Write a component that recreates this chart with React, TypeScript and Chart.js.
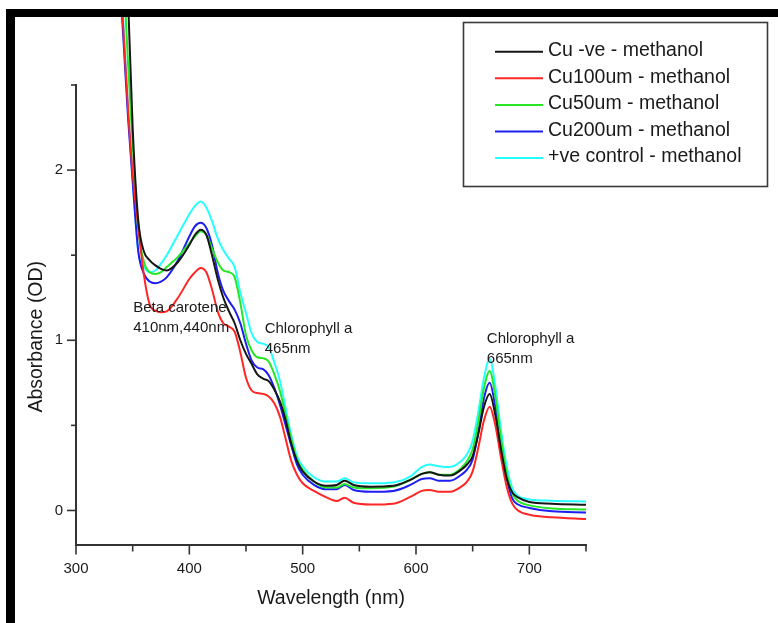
import React, { useEffect, useRef } from "react";
import { Chart, registerables } from "chart.js";

Chart.register(...registerables);

// ---------- DATA ----------
const wavelengths = [
  338, 342, 346, 350, 355, 360, 365, 370, 375, 380, 390, 400, 405, 410, 415, 420, 425, 430, 435, 440,
  445, 450, 455, 460, 465, 470, 475, 480, 485, 490, 495, 500, 510, 520, 530, 537, 545, 560, 580, 595,
  605, 612, 620, 630, 640, 645, 650, 655, 660, 665, 670, 675, 680, 685, 690, 700, 720, 750,
];

const cuNegative = [
  4.5, 3.8, 3.0, 2.25, 1.7, 1.52, 1.47, 1.44, 1.42, 1.41, 1.46, 1.56, 1.62, 1.65, 1.62, 1.5, 1.36, 1.25, 1.17, 1.1,
  1.0, 0.92, 0.86, 0.8, 0.775, 0.76, 0.71, 0.64, 0.53, 0.39, 0.29, 0.23, 0.17, 0.145, 0.15, 0.175, 0.15, 0.14, 0.145, 0.18,
  0.215, 0.225, 0.21, 0.205, 0.24, 0.27, 0.32, 0.45, 0.61, 0.685, 0.56, 0.36, 0.19, 0.105, 0.077, 0.05, 0.04, 0.033,
];

const cu100 = [
  3.25, 2.8, 2.35, 1.98, 1.66, 1.38, 1.21, 1.175, 1.165, 1.17, 1.25, 1.36, 1.4, 1.425, 1.4, 1.3, 1.17, 1.1, 1.08, 1.05,
  0.93, 0.78, 0.705, 0.69, 0.685, 0.67, 0.63, 0.55, 0.42, 0.29, 0.21, 0.16, 0.115, 0.08, 0.055, 0.075, 0.045, 0.035, 0.04, 0.08,
  0.115, 0.12, 0.11, 0.11, 0.14, 0.17, 0.23, 0.37, 0.53, 0.61, 0.5, 0.31, 0.14, 0.04, 0.0, -0.025, -0.04, -0.05,
];

const cu50 = [
  3.65, 3.15, 2.62, 2.15, 1.65, 1.46, 1.4, 1.39, 1.4, 1.43, 1.49, 1.57, 1.61, 1.64, 1.62, 1.54, 1.46, 1.41, 1.4, 1.37,
  1.22, 1.03, 0.94, 0.9, 0.895, 0.875, 0.8, 0.7, 0.56, 0.42, 0.3, 0.24, 0.17, 0.135, 0.135, 0.155, 0.135, 0.13, 0.14, 0.18,
  0.215, 0.225, 0.21, 0.21, 0.25, 0.29, 0.36, 0.52, 0.72, 0.82, 0.67, 0.42, 0.22, 0.1, 0.055, 0.03, 0.012, 0.005,
];

const cu200 = [
  3.2, 2.75, 2.3, 1.93, 1.52, 1.39, 1.345, 1.335, 1.345, 1.37, 1.47, 1.61, 1.67, 1.69, 1.66, 1.56, 1.4, 1.29, 1.23, 1.18,
  1.1, 0.98, 0.88, 0.84, 0.83, 0.795, 0.72, 0.62, 0.5, 0.38, 0.27, 0.21, 0.15, 0.125, 0.125, 0.15, 0.12, 0.11, 0.115, 0.15,
  0.185, 0.19, 0.175, 0.175, 0.21, 0.24, 0.3, 0.46, 0.66, 0.75, 0.61, 0.4, 0.19, 0.07, 0.035, 0.015, -0.005, -0.012,
];

const positiveControl = [
  3.35, 2.85, 2.35, 1.95, 1.52, 1.43, 1.4, 1.41, 1.45, 1.5, 1.62, 1.74, 1.79, 1.815, 1.78, 1.7, 1.6, 1.53, 1.48, 1.43,
  1.28, 1.16, 1.04, 0.99, 0.98, 0.96, 0.87, 0.76, 0.6, 0.44, 0.32, 0.26, 0.195, 0.17, 0.17, 0.19, 0.165, 0.16, 0.165, 0.2,
  0.255, 0.27, 0.26, 0.255, 0.29, 0.33, 0.41, 0.58, 0.78, 0.89, 0.73, 0.47, 0.26, 0.13, 0.085, 0.065, 0.057, 0.053,
];

const seriesLabels = [
  "Cu -ve - methanol",
  "Cu100um - methanol",
  "Cu50um - methanol",
  "Cu200um - methanol",
  "+ve control - methanol",
];
const seriesValues = [cuNegative, cu100, cu50, cu200, positiveControl];
const seriesColors = ["#161616", "#ff2626", "#26e626", "#1e1ef2", "#26ffff"];

const xTickValues = [300, 350, 400, 450, 500, 550, 600, 650, 700, 750];
const xLabelValues = [300, 400, 500, 600, 700];
const yTickValues = [0, 0.5, 1, 1.5, 2, 2.5];
const yLabelValues = [0, 1, 2];

const xTitle = "Wavelength (nm)";
const yTitle = "Absorbance (OD)";

const annotationTexts = [
  ["Beta carotene", "410nm,440nm"],
  ["Chlorophyll a", "465nm"],
  ["Chlorophyll a", "665nm"],
];
const annotationWavelengths = [350.5, 466.5, 662.5];
const annotationAbsorbances = [1.167, 1.043, 0.986];

// ---------- STYLE ----------
const FONT = "'Liberation Sans', Arial, Helvetica, sans-serif";
const TEXT = "#1a1a1a";
const AXIS = "#333333";

const decorPlugin = {
  id: "decor",
  afterDraw(chart: any) {
    const { ctx, chartArea, scales } = chart;
    const xs = scales.x;
    const ys = scales.y;
    ctx.save();
    // tick marks (major + minor)
    ctx.strokeStyle = AXIS;
    ctx.lineWidth = 1.6;
    xTickValues.forEach((v) => {
      const px = xs.getPixelForValue(v);
      const len = xLabelValues.includes(v) ? 10 : 7;
      ctx.beginPath();
      ctx.moveTo(px, chartArea.bottom);
      ctx.lineTo(px, chartArea.bottom + len);
      ctx.stroke();
    });
    yTickValues.forEach((v) => {
      const py = ys.getPixelForValue(v);
      const len = yLabelValues.includes(v) ? 9 : 5;
      ctx.beginPath();
      ctx.moveTo(chartArea.left - len, py);
      ctx.lineTo(chartArea.left, py);
      ctx.stroke();
    });

    // y-axis title
    ctx.fillStyle = TEXT;
    ctx.font = `19.5px ${FONT}`;
    ctx.textAlign = "center";
    ctx.textBaseline = "middle";
    ctx.save();
    ctx.translate(37, (chartArea.top + chartArea.bottom) / 2 + 22);
    ctx.rotate(-Math.PI / 2);
    ctx.fillText(yTitle, 0, 0);
    ctx.restore();

    // annotations
    ctx.font = `15px ${FONT}`;
    ctx.textAlign = "left";
    ctx.textBaseline = "alphabetic";
    annotationTexts.forEach((lines, i) => {
      const px = xs.getPixelForValue(annotationWavelengths[i]);
      const py = ys.getPixelForValue(annotationAbsorbances[i]);
      lines.forEach((t, j) => ctx.fillText(t, px, py + j * 20.5));
    });

    // legend box
    const bx = 463.5, by = 5.5, bw = 304, bh = 164;
    ctx.fillStyle = "#ffffff";
    ctx.fillRect(bx, by, bw, bh);
    ctx.strokeStyle = "#3a3a3a";
    ctx.lineWidth = 1.6;
    ctx.strokeRect(bx, by, bw, bh);
    ctx.font = `19.5px ${FONT}`;
    ctx.textBaseline = "middle";
    ctx.textAlign = "left";
    chart.data.datasets.forEach((ds: any, i: number) => {
      const cy = 33.7 + i * 26.6;
      ctx.strokeStyle = ds.borderColor;
      ctx.lineWidth = 2;
      ctx.beginPath();
      ctx.moveTo(495, cy + 1);
      ctx.lineTo(543, cy + 1);
      ctx.stroke();
      ctx.fillStyle = TEXT;
      ctx.fillText(ds.label, 548, cy);
    });
    ctx.restore();
  },
};

export default function App() {
  const canvasRef = useRef<HTMLCanvasElement | null>(null);

  useEffect(() => {
    const canvas = canvasRef.current;
    if (!canvas) return;
    const chart = new Chart(canvas, {
      type: "line",
      data: {
        datasets: seriesLabels.map((label, i) => ({
          label,
          data: wavelengths.map((w, k) => ({ x: w, y: seriesValues[i][k] })),
          borderColor: seriesColors[i],
          backgroundColor: seriesColors[i],
          borderWidth: 2,
          pointRadius: 0,
          fill: false,
          cubicInterpolationMode: "monotone",
          clip: { left: 0, right: 0, top: false, bottom: 0 },
        })),
      },
      options: {
        responsive: false,
        animation: false,
        devicePixelRatio: 1,
        layout: { padding: { left: 0, right: 192, top: 68, bottom: 0 } },
        plugins: {
          legend: { display: false },
          tooltip: { enabled: false },
        },
        scales: {
          x: {
            type: "linear",
            min: 300,
            max: 750,
            afterBuildTicks: (s: any) => {
              s.ticks = xTickValues.map((v) => ({ value: v }));
            },
            afterFit: (s: any) => {
              s.height = 78.5;
            },
            grid: { display: false, drawTicks: false },
            border: { display: true, color: AXIS, width: 2 },
            ticks: {
              autoSkip: false,
              maxRotation: 0,
              padding: 15,
              color: TEXT,
              font: { family: FONT, size: 15 },
              callback: (v: any) => (xLabelValues.includes(Number(v)) ? String(v) : ""),
            },
            title: {
              display: true,
              text: xTitle,
              color: TEXT,
              font: { family: FONT, size: 19.5 },
              padding: { top: 0, bottom: 13 },
            },
          },
          y: {
            type: "linear",
            min: -0.2,
            max: 2.5,
            afterBuildTicks: (s: any) => {
              s.ticks = yTickValues.map((v) => ({ value: v }));
            },
            afterFit: (s: any) => {
              s.width = 76;
            },
            grid: { display: false, drawTicks: false },
            border: { display: true, color: AXIS, width: 2 },
            ticks: {
              autoSkip: false,
              padding: 13,
              color: TEXT,
              font: { family: FONT, size: 15 },
              callback: (v: any) => (yLabelValues.includes(Number(v)) ? String(v) : ""),
            },
            title: { display: false },
          },
        },
      },
      plugins: [decorPlugin],
    } as any);
    return () => chart.destroy();
  }, []);

  return (
    <div
      style={{
        position: "absolute",
        left: 0,
        top: 0,
        width: 778,
        height: 623,
        background: "#ffffff",
        overflow: "hidden",
      }}
    >
      <canvas
        ref={canvasRef}
        width={778}
        height={606}
        style={{ position: "absolute", left: 0, top: 17, width: 778, height: 606 }}
      />
      <div style={{ position: "absolute", left: 6, top: 9, width: 772, height: 8, background: "#000" }} />
      <div style={{ position: "absolute", left: 6, top: 9, width: 9, height: 614, background: "#000" }} />
    </div>
  );
}
